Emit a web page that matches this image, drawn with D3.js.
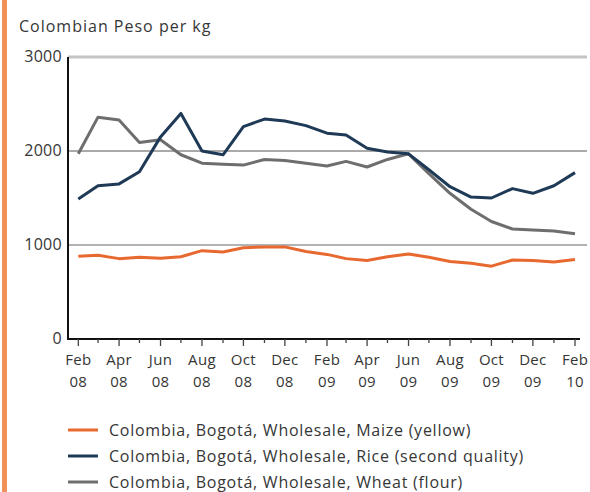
<!DOCTYPE html>
<html><head><meta charset="utf-8">
<script src="https://cdn.jsdelivr.net/npm/d3@7"></script>
<style>body{margin:0;background:#fff}svg{display:block}text{font-family:"Open Sans",sans-serif;fill:#363636}</style>
</head><body>
<script>
const months = ["2008-02","2008-03","2008-04","2008-05","2008-06","2008-07","2008-08","2008-09","2008-10","2008-11","2008-12","2009-01","2009-02","2009-03","2009-04","2009-05","2009-06","2009-07","2009-08","2009-09","2009-10","2009-11","2009-12","2010-01","2010-02"];
const maize = [880,890,855,870,860,875,940,925,970,980,980,930,900,855,835,875,905,870,825,805,775,840,835,820,845];
const rice  = [1490,1630,1650,1780,2150,2400,2000,1960,2260,2340,2320,2270,2190,2170,2030,1990,1970,1800,1620,1510,1500,1600,1550,1630,1770];
const wheat = [1970,2360,2330,2090,2120,1960,1870,1860,1850,1910,1900,1870,1840,1890,1830,1910,1970,1760,1550,1380,1250,1170,1160,1150,1120];
const yTicks = [0,1000,2000,3000];
const seriesNames = ["Colombia, Bogotá, Wholesale, Maize (yellow)","Colombia, Bogotá, Wholesale, Rice (second quality)","Colombia, Bogotá, Wholesale, Wheat (flour)"];
const seriesColors = ["#e8692f","#1f3a56","#6e6e6e"];
const yLabel = "Colombian Peso per kg";

const W=590,H=492;
const svg=d3.select("body").append("svg").attr("width",W).attr("height",H);
const parse=d3.timeParse("%Y-%m");
const dates=months.map(parse);
const x=d3.scaleTime().domain([dates[0],dates[dates.length-1]]).range([78.3,575]);
const y=d3.scaleLinear().domain([0,3000]).range([339,57]);

svg.append("rect").attr("x",2).attr("y",0).attr("width",5).attr("height",H).attr("fill","#f0915a");

svg.append("text").attr("x",19).attr("y",32).attr("font-size",16).attr("letter-spacing",1).text(yLabel);

const gs={1000:{c:"#9a9a9a",w:1.5},2000:{c:"#555",w:1},3000:{c:"#c4c4c4",w:3}};
svg.selectAll("line.grid").data(yTicks.filter(d=>d>0)).join("line")
  .attr("x1",68).attr("x2",587).attr("y1",d=>y(d)).attr("y2",d=>y(d))
  .attr("stroke",d=>gs[d].c).attr("stroke-width",d=>gs[d].w);

svg.selectAll("text.yl").data(yTicks).join("text")
  .attr("x",62).attr("y",d=>y(d)+5).attr("text-anchor","end").attr("font-size",16).attr("letter-spacing",0.3).text(d=>d);

svg.append("line").attr("x1",68).attr("x2",68).attr("y1",y(3000)).attr("y2",y(0)+1).attr("stroke","#111").attr("stroke-width",2);
svg.append("line").attr("x1",67).attr("x2",580).attr("y1",y(0)).attr("y2",y(0)).attr("stroke","#111").attr("stroke-width",2);

svg.selectAll("line.xt").data(dates).join("line")
  .attr("x1",d=>x(d)).attr("x2",d=>x(d)).attr("y1",y(0))
  .attr("y2",(d,i)=>y(0)+(i%2===0?7:4)).attr("stroke","#444").attr("stroke-width",1.3);

const fm=d3.timeFormat("%b"), fy=d3.timeFormat("%y");
const lab=svg.selectAll("g.xl").data(dates.filter((d,i)=>i%2===0)).join("g")
  .attr("transform",d=>`translate(${x(d)},0)`);
lab.append("text").attr("y",365).attr("text-anchor","middle").attr("font-size",15).attr("letter-spacing",0.3).text(d=>fm(d));
lab.append("text").attr("y",387).attr("text-anchor","middle").attr("font-size",15).attr("letter-spacing",0.3).text(d=>fy(d));

const line=d3.line().x((d,i)=>x(dates[i])).y(d=>y(d));
[wheat,rice,maize].forEach((s)=>{
  const k=[maize,rice,wheat].indexOf(s);
  svg.append("path").attr("d",line(s)).attr("fill","none").attr("stroke",seriesColors[k])
    .attr("stroke-width",3).attr("stroke-linejoin","round");
});

const lg=svg.selectAll("g.lg").data(seriesNames).join("g")
  .attr("transform",(d,i)=>`translate(0,${430+i*26})`);
lg.append("line").attr("x1",68).attr("x2",98).attr("stroke",(d,i)=>seriesColors[i]).attr("stroke-width",3);
lg.append("text").attr("x",109).attr("y",5.5).attr("font-size",16).attr("letter-spacing",0.75).text(d=>d);
</script>
</body></html>
